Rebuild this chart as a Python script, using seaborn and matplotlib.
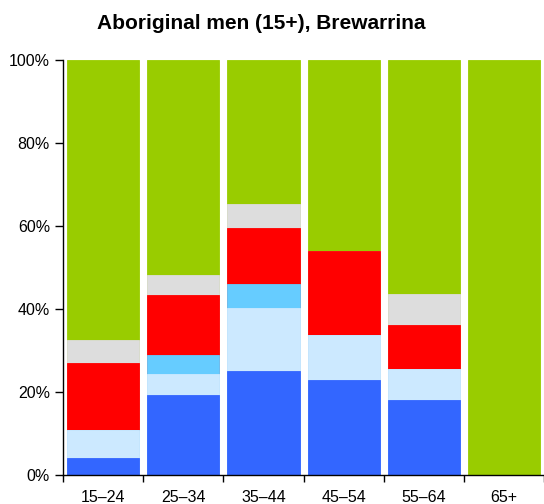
import numpy as np
import pandas as pd
import seaborn as sns
import matplotlib.pyplot as plt
from matplotlib.ticker import FixedLocator, PercentFormatter

ages = ["15–24", "25–34", "35–44", "45–54", "55–64", "65+"]

# segment shares (%), bottom to top
seg_blue = [4.0, 19.3, 24.9, 22.9, 18.1, 0.0]
seg_lightblue = [6.8, 5.0, 15.4, 10.8, 7.3, 0.0]
seg_cyan = [0.0, 4.6, 5.8, 0.0, 0.0, 0.0]
seg_red = [16.1, 14.5, 13.3, 20.3, 10.8, 0.0]
seg_grey = [5.5, 4.8, 5.9, 0.0, 7.4, 0.0]
seg_green = [67.6, 51.8, 34.7, 46.0, 56.4, 100.0]

series = [seg_blue, seg_lightblue, seg_cyan, seg_red, seg_grey, seg_green]
colors = ["#3366ff", "#cce9ff", "#66ccff", "#ff0000", "#dddddd", "#99cc00"]

sns.set_style("white")
plt.rcParams["font.family"] = ["Liberation Sans", "DejaVu Sans"]
plt.rcParams["text.color"] = "black"
plt.rcParams["xtick.color"] = "black"
plt.rcParams["ytick.color"] = "black"

fig = plt.figure(figsize=(5.44, 5.04), dpi=100)
ax = fig.add_axes([0.116, 0.058, 0.884, 0.823])

cum = np.cumsum(np.array(series), axis=0)
# draw cumulative totals from the top down so lower segments overlay
for i in range(len(series) - 1, -1, -1):
    df = pd.DataFrame({"age": ages, "value": cum[i]})
    sns.barplot(data=df, x="age", y="value", color=colors[i], width=0.9,
                saturation=1, edgecolor=colors[i], linewidth=0.6, ax=ax)

ax.set_xlim(-0.5, len(ages) - 0.5)
ax.set_ylim(0, 100)
ax.yaxis.set_major_locator(FixedLocator([0, 20, 40, 60, 80, 100]))
ax.yaxis.set_major_formatter(PercentFormatter(decimals=0))

ax.set_xticks(np.arange(-0.5, len(ages) - 0.4, 1.0))
ax.set_xticklabels([])
ax.set_xticks(np.arange(len(ages)), minor=True)
ax.set_xticklabels(ages, minor=True)
ax.tick_params(axis="x", which="minor", length=0, pad=11, labelsize=11.5,
               labelcolor="black")
ax.tick_params(axis="x", which="major", length=5, width=1, direction="out",
               bottom=True, color="black")
ax.tick_params(axis="y", length=6, width=1, direction="out", left=True,
               labelsize=11.5, color="black", labelcolor="black")

ax.set_xlabel("")
ax.set_ylabel("")
for s in ["top", "right"]:
    ax.spines[s].set_visible(False)
for s in ["left", "bottom"]:
    ax.spines[s].set_color("black")
    ax.spines[s].set_linewidth(1)

fig.suptitle("Aboriginal men (15+), Brewarrina", x=0.48, y=0.972,
             fontsize=15, fontweight="bold", color="black")

plt.savefig("out.png", dpi=100)
